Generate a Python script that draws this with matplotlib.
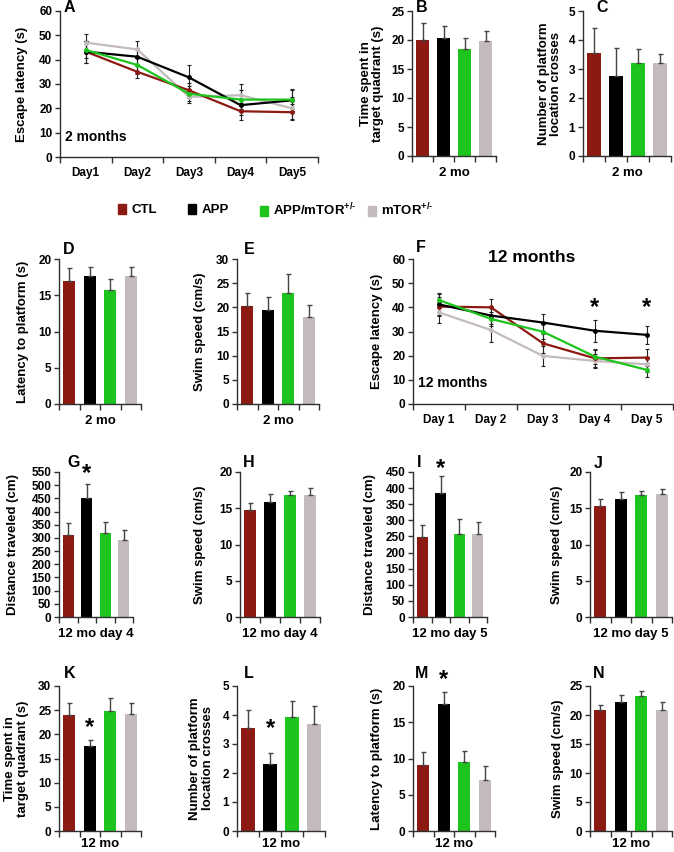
import numpy as np
import matplotlib
matplotlib.use("Agg")
import matplotlib.pyplot as plt
from matplotlib.patches import Patch

plt.rcParams['font.family'] = ['Liberation Sans', 'DejaVu Sans']
plt.rcParams['font.weight'] = 'bold'
plt.rcParams['axes.labelweight'] = 'bold'
plt.rcParams['mathtext.fontset'] = 'custom'
plt.rcParams['mathtext.rm'] = 'Liberation Sans:bold'
plt.rcParams['mathtext.it'] = 'Liberation Sans:bold'
plt.rcParams['mathtext.bf'] = 'Liberation Sans:bold'

W, H = 674, 852

groups = ['CTL', 'APP', r'APP/mTOR$^{\text{+/-}}$', r'mTOR$^{\text{+/-}}$']
colors = ['#8C1A12', '#000000', '#1EC41E', '#C4BCBC']
axc = '#303030'

# escape latency, order CTL, APP, APP/mTOR, mTOR
days_2mo = ['Day1', 'Day2', 'Day3', 'Day4', 'Day5']
esc_2mo = [[43.3, 35.0, 27.4, 18.8, 18.4],
           [43.3, 41.2, 32.7, 21.3, 23.3],
           [44.0, 37.8, 26.0, 23.6, 23.6],
           [47.0, 44.2, 24.7, 25.4, 20.0]]
esc_2mo_err = [[4.5, 2.5, 3.0, 3.5, 3.4],
               [4.5, 3.5, 5.0, 4.0, 4.5],
               [3.5, 3.5, 3.0, 4.0, 4.0],
               [3.5, 3.5, 2.5, 4.5, 4.5]]

days_12mo = ['Day 1', 'Day 2', 'Day 3', 'Day 4', 'Day 5']
esc_12mo = [[40.3, 40.0, 25.1, 18.9, 19.2],
            [41.2, 36.6, 33.7, 30.3, 28.6],
            [43.0, 35.2, 29.9, 19.6, 14.1],
            [37.9, 30.6, 19.9, 17.8, 16.4]]
esc_12mo_err = [[4.0, 3.5, 4.0, 3.5, 3.5],
                [4.5, 3.5, 3.5, 4.5, 3.7],
                [3.0, 3.0, 3.0, 3.0, 3.0],
                [4.5, 5.0, 4.0, 3.0, 3.0]]

# bar panels: means and SEM
quad_2mo = [20.0, 20.3, 18.4, 19.9]
quad_2mo_err = [2.9, 2.2, 1.9, 1.7]
cross_2mo = [3.55, 2.76, 3.2, 3.2]
cross_2mo_err = [0.85, 0.95, 0.5, 0.32]
lat_2mo = [17.0, 17.6, 15.7, 17.6]
lat_2mo_err = [1.8, 1.3, 1.5, 1.3]
speed_2mo = [20.3, 19.5, 22.9, 17.9]
speed_2mo_err = [2.6, 2.7, 4.1, 2.5]
dist_d4 = [311, 453, 317, 293]
dist_d4_err = [47, 53, 42, 36]
speed_d4 = [14.8, 15.8, 16.8, 16.8]
speed_d4_err = [0.9, 1.1, 0.6, 1.0]
dist_d5 = [249, 386, 259, 258]
dist_d5_err = [38, 52, 46, 37]
speed_d5 = [15.3, 16.3, 16.8, 17.0]
speed_d5_err = [1.0, 0.9, 0.6, 0.6]
quad_12mo = [24.1, 17.5, 24.8, 24.3]
quad_12mo_err = [2.4, 1.4, 2.7, 2.2]
cross_12mo = [3.55, 2.31, 3.93, 3.7]
cross_12mo_err = [0.62, 0.37, 0.55, 0.61]
lat_12mo = [9.15, 17.55, 9.5, 7.0]
lat_12mo_err = [1.75, 1.6, 1.5, 2.0]
speed_12mo = [20.9, 22.3, 23.3, 20.9]
speed_12mo_err = [0.75, 1.1, 0.8, 1.3]

fig = plt.figure(figsize=(W / 100, H / 100), dpi=100)


def px_rect(x0, y0, x1, y1):
    return [x0 / W, 1 - y1 / H, (x1 - x0) / W, (y1 - y0) / H]


def letter(x, y, s):
    fig.text(x / W, 1 - y / H, s, ha='left', va='center', fontsize=11.5)


def style(ax, ymax, step):
    for s in ['top', 'right']:
        ax.spines[s].set_visible(False)
    for s in ['left', 'bottom']:
        ax.spines[s].set_color(axc)
        ax.spines[s].set_linewidth(1)
    ax.set_ylim(0, ymax)
    ax.set_yticks(np.arange(0, ymax + step / 2, step))
    ax.tick_params(axis='y', direction='out', length=3.5, width=1, color=axc,
                   labelsize=8.5, pad=2)
    ax.tick_params(axis='x', which='major', direction='out', length=4, width=1,
                   color=axc, labelbottom=False)


def bar_panel(rect, means, errs, ymax, step, ylabel, xlabel, lab_x, stars=(),
              xlab_y=-0.075):
    ax = fig.add_axes(px_rect(*rect))
    x = np.arange(1, 5)
    ax.bar(x, means, width=0.6, color=colors)
    ax.errorbar(x, means, yerr=[np.zeros(4), errs], fmt='none', ecolor='#444444',
                elinewidth=1, capsize=1.8, capthick=1)
    ax.set_xlim(0.5, 4.5)
    ax.set_xticks(np.arange(0.5, 4.6, 1))
    style(ax, ymax, step)
    ax.set_ylabel(ylabel, fontsize=9.5, va='center', ha='center', linespacing=1.1)
    ax.yaxis.set_label_coords(lab_x, 0.5)
    ax.set_xlabel(xlabel, fontsize=9.5)
    ax.xaxis.set_label_coords(0.5, xlab_y)
    for xi, yi in stars:
        ax.text(xi, yi, '*', ha='center', va='center', fontsize=17, clip_on=False)
    return ax


def line_panel(rect, days, means, errs, lab_x, note, note_y):
    ax = fig.add_axes(px_rect(*rect))
    x = np.arange(1, 6)
    for i in [3, 0, 1, 2]:
        ax.errorbar(x, means[i], yerr=errs[i], color=colors[i], lw=1.6,
                    marker='o', ms=2.5, ecolor='#222222', elinewidth=0.8,
                    capsize=1.6, capthick=0.8)
    ax.set_xlim(0.5, 5.5)
    ax.set_xticks(np.arange(0.5, 5.6, 1))
    ax.set_xticks(x, minor=True)
    ax.set_xticklabels(days, minor=True)
    style(ax, 60, 10)
    ax.tick_params(axis='x', which='minor', length=0, labelsize=8.5, pad=7)
    ax.set_ylabel('Escape latency (s)', fontsize=9.5, va='center', ha='center')
    ax.yaxis.set_label_coords(lab_x, 0.5)
    ax.text(0.6, note_y, note, ha='left', va='center', fontsize=10)
    return ax


# row 1
line_panel((60, 11, 318, 157), days_2mo, esc_2mo, esc_2mo_err, -0.147, '2 months', 8.2)
letter(64, 7, 'A')
bar_panel((412, 11, 496, 156), quad_2mo, quad_2mo_err, 25, 5,
          'Time spent in\ntarget quadrant (s)', '2 mo', -0.476)
letter(416, 7, 'B')
bar_panel((583, 11, 671, 156), cross_2mo, cross_2mo_err, 5, 1,
          'Number of platform\nlocation crosses', '2 mo', -0.375)
letter(596, 7, 'C')

# legend entries placed one by one, as spaced in the original
for c, g, xl in zip(colors, groups, [118, 188, 260, 368]):
    fig.legend(handles=[Patch(color=c, label=g)], loc='center left',
               bbox_to_anchor=(xl / W, 1 - 210 / H), frameon=False, fontsize=9.5,
               handlelength=0.6, handleheight=0.8, handletextpad=0.4,
               borderpad=0, borderaxespad=0)

# row 2
bar_panel((59, 259, 141, 404), lat_2mo, lat_2mo_err, 20, 5,
          'Latency to platform (s)', '2 mo', -0.44)
letter(63, 250, 'D')
bar_panel((237, 259, 319, 404), speed_2mo, speed_2mo_err, 30, 5,
          'Swim speed (cm/s)', '2 mo', -0.45)
letter(244, 250, 'E')
axf = line_panel((413, 259, 673, 404), days_12mo, esc_12mo, esc_12mo_err, -0.138,
                 '12 months', 8.7)
for d in [4, 5]:
    axf.text(d, 40, '*', ha='center', va='center', fontsize=17)
letter(416, 248, 'F')
fig.text(532 / W, 1 - 257 / H, '12 months', ha='center', va='center', fontsize=12.5)

# row 3
bar_panel((59, 472, 133, 617), dist_d4, dist_d4_err, 550, 50,
          'Distance traveled (cm)', '12 mo day 4', -0.62, stars=[(2, 545)])
letter(67, 462, 'G')
bar_panel((240, 472, 320, 617), speed_d4, speed_d4_err, 20, 5,
          'Swim speed (cm/s)', '12 mo day 4', -0.5)
letter(243, 462, 'H')
bar_panel((413, 472, 487, 617), dist_d5, dist_d5_err, 450, 50,
          'Distance traveled (cm)', '12 mo day 5', -0.58, stars=[(2, 462)])
letter(417, 462, 'I')
bar_panel((590, 472, 672, 617), speed_d5, speed_d5_err, 20, 5,
          'Swim speed (cm/s)', '12 mo day 5', -0.40)
letter(594, 463, 'J')

# row 4 (labels sit close to the bottom edge)
bar_panel((59, 686, 141, 831), quad_12mo, quad_12mo_err, 30, 5,
          'Time spent in\ntarget quadrant (s)', '12 mo', -0.52, stars=[(2, 21.4)],
          xlab_y=-0.045)
letter(64, 673, 'K')
bar_panel((237, 686, 325, 831), cross_12mo, cross_12mo_err, 5, 1,
          'Number of platform\nlocation crosses', '12 mo', -0.40, stars=[(2, 3.55)],
          xlab_y=-0.045)
letter(244, 673, 'L')
bar_panel((413, 686, 495, 831), lat_12mo, lat_12mo_err, 20, 5,
          'Latency to platform (s)', '12 mo', -0.44, stars=[(2, 20.9)],
          xlab_y=-0.045)
letter(415, 673, 'M')
bar_panel((590, 686, 672, 831), speed_12mo, speed_12mo_err, 25, 5,
          'Swim speed (cm/s)', '12 mo', -0.39, xlab_y=-0.045)
letter(593, 673, 'N')

fig.savefig('out.png', dpi=100)
